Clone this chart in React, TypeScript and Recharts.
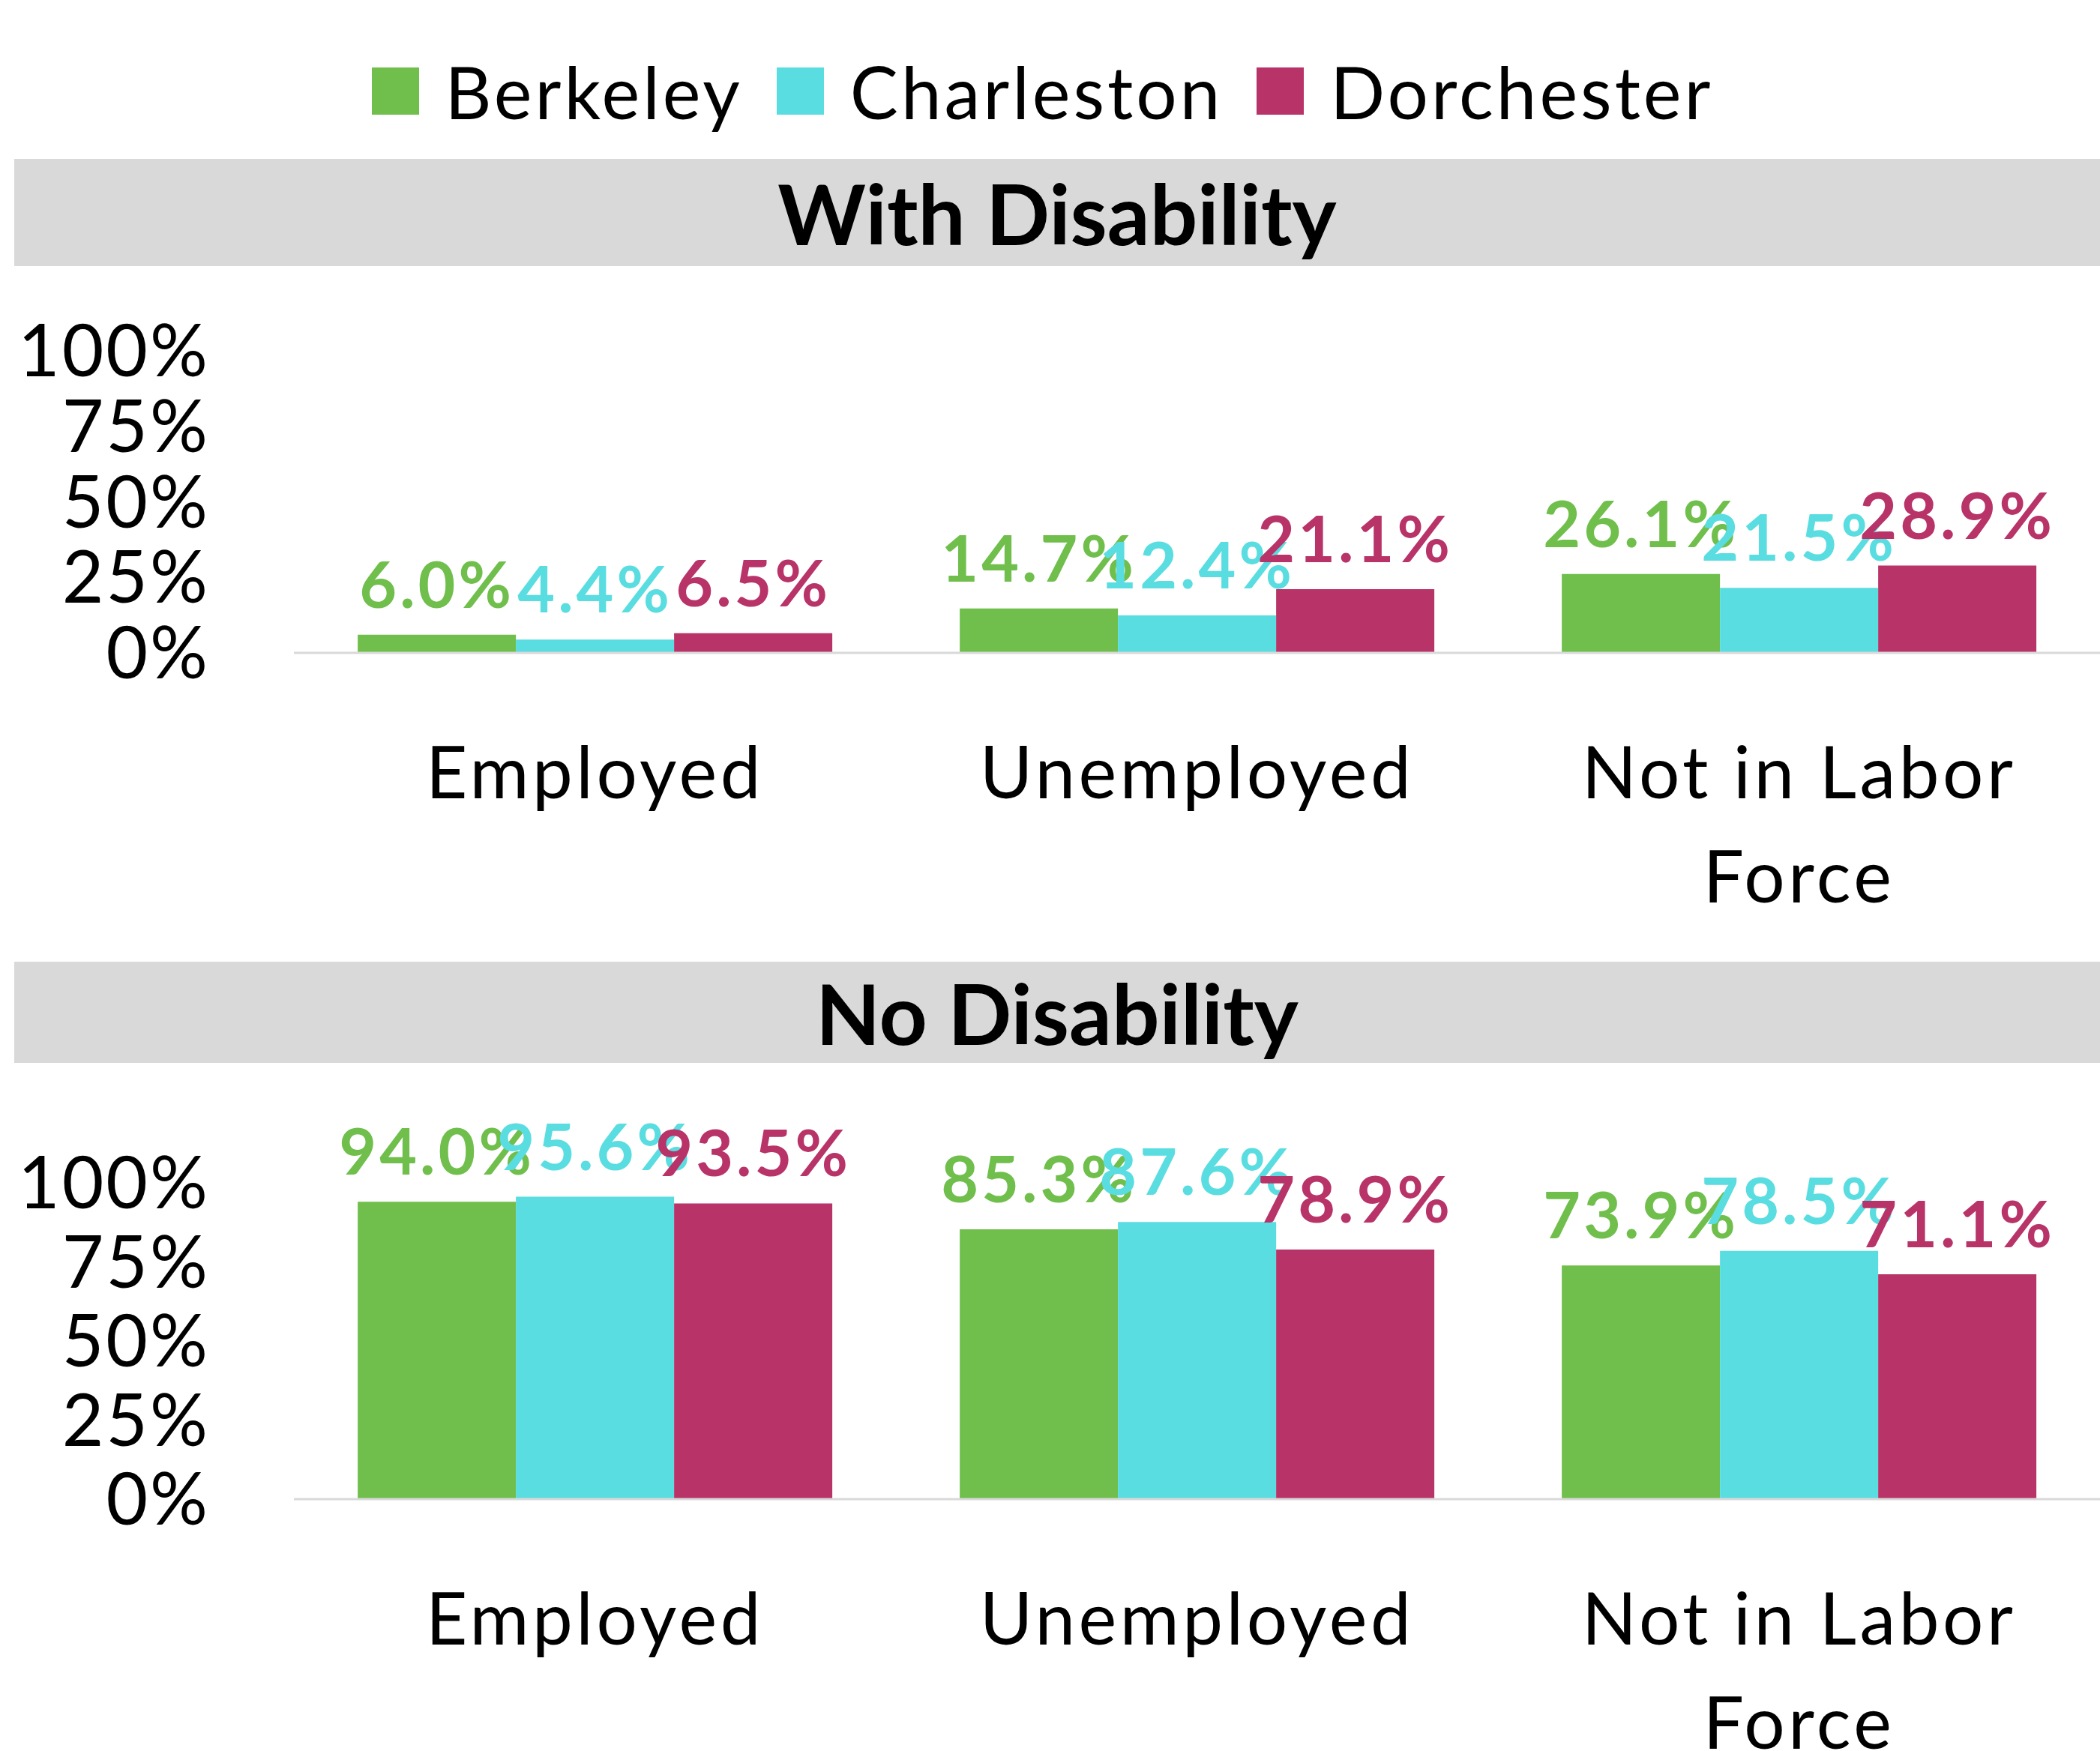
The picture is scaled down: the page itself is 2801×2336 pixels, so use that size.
import React from 'react';
import { BarChart, Bar, XAxis, YAxis, LabelList } from 'recharts';

const FONT = 'Lato, "Open Sans", sans-serif';

const categories = ['Employed', 'Unemployed', 'Not in Labor Force'];
const seriesNames = ['Berkeley', 'Charleston', 'Dorchester'];
const seriesColors = ['#70bf4c', '#5adde0', '#b83368'];

const withDisabilityBerkeley = [6.0, 14.7, 26.1];
const withDisabilityCharleston = [4.4, 12.4, 21.5];
const withDisabilityDorchester = [6.5, 21.1, 28.9];

const noDisabilityBerkeley = [94.0, 85.3, 73.9];
const noDisabilityCharleston = [95.6, 87.6, 78.5];
const noDisabilityDorchester = [93.5, 78.9, 71.1];

const yTicks = [0, 25, 50, 75, 100];
const panelTitles = ['With Disability', 'No Disability'];

function buildRows(b: number[], c: number[], d: number[]) {
  return categories.map((cat, i) => ({
    category: cat,
    [seriesNames[0]]: b[i],
    [seriesNames[1]]: c[i],
    [seriesNames[2]]: d[i],
  }));
}

const withRows = buildRows(withDisabilityBerkeley, withDisabilityCharleston, withDisabilityDorchester);
const noRows = buildRows(noDisabilityBerkeley, noDisabilityCharleston, noDisabilityDorchester);

const CategoryTick = (props: any) => {
  const { x, y, payload } = props;
  const words = String(payload.value).split(' ');
  const lines: string[] = [];
  let cur = '';
  for (const w of words) {
    const next = cur ? cur + ' ' + w : w;
    if (next.length > 13 && cur) {
      lines.push(cur);
      cur = w;
    } else cur = next;
  }
  if (cur) lines.push(cur);
  return (
    <text x={x} y={y} textAnchor="middle" fontFamily={FONT} fontSize={96} fill="#000" letterSpacing={4.5}>
      {lines.map((l, i) => (
        <tspan key={i} x={x} dy={i === 0 ? 194 : 139}>
          {l}
        </tspan>
      ))}
    </text>
  );
};

function Panel(props: { rows: any[]; top: number; height: number; marginTop: number; xAxisHeight: number }) {
  const { rows, top, height, marginTop, xAxisHeight } = props;
  return (
    <div style={{ position: 'absolute', left: 0, top, width: 2801, height }}>
      <BarChart
        width={2801}
        height={height}
        data={rows}
        margin={{ top: marginTop, right: 0, bottom: 0, left: 0 }}
        barCategoryGap="10.6%"
        barGap={0}
      >
        <XAxis
          dataKey="category"
          axisLine={{ stroke: '#d9d9d9', strokeWidth: 3 }}
          tickLine={false}
          tickSize={0}
          tickMargin={0}
          height={xAxisHeight}
          interval={0}
          tick={<CategoryTick />}
        />
        <YAxis
          width={392}
          domain={[0, 100]}
          ticks={yTicks}
          interval={0}
          axisLine={false}
          tickLine={false}
          tickSize={0}
          tickMargin={112}
          tickFormatter={(v: number) => `${v}%`}
          tick={{ fontSize: 96, fill: '#000', fontFamily: FONT, letterSpacing: 3 }}
        />
        {seriesNames.map((name, i) => (
          <Bar key={name} dataKey={name} fill={seriesColors[i]} isAnimationActive={false}>
            <LabelList
              dataKey={name}
              position="top"
              offset={36}
              formatter={(v: any) => `${Number(v).toFixed(1)}%`}
              style={{ fill: seriesColors[i], fontSize: 86, fontWeight: 700, fontFamily: FONT, letterSpacing: 4 }}
            />
          </Bar>
        ))}
      </BarChart>
    </div>
  );
}

function Strip(props: { title: string; top: number; height: number }) {
  return (
    <div
      style={{
        position: 'absolute',
        left: 19,
        top: props.top,
        width: 2782,
        height: props.height,
        background: '#d9d9d9',
        display: 'flex',
        alignItems: 'center',
        justifyContent: 'center',
        fontFamily: FONT,
        fontWeight: 700,
        fontSize: 112,
        color: '#000',
        lineHeight: 1,
      }}
    >
      {props.title}
    </div>
  );
}

export default function App() {
  return (
    <div style={{ position: 'absolute', left: 0, top: 0, width: 2801, height: 2336, background: '#fff', overflow: 'hidden' }}>
      <div
        style={{
          position: 'absolute',
          left: 0,
          top: 64,
          width: 2781,
          height: 115,
          display: 'flex',
          alignItems: 'center',
          justifyContent: 'center',
          fontFamily: FONT,
          fontSize: 96,
          letterSpacing: 4,
          color: '#000',
        }}
      >
        {seriesNames.map((name, i) => (
          <div key={name} style={{ display: 'flex', alignItems: 'center', marginRight: i < seriesNames.length - 1 ? 45 : 0 }}>
            <div style={{ width: 63, height: 63, background: seriesColors[i], marginRight: 35 }} />
            <span>{name}</span>
          </div>
        ))}
      </div>
      <Strip title={panelTitles[0]} top={212} height={143} />
      <Panel rows={withRows} top={355} height={928} marginTop={113} xAxisHeight={412} />
      <Strip title={panelTitles[1]} top={1283} height={135} />
      <Panel rows={noRows} top={1418} height={918} marginTop={160} xAxisHeight={336} />
    </div>
  );
}
